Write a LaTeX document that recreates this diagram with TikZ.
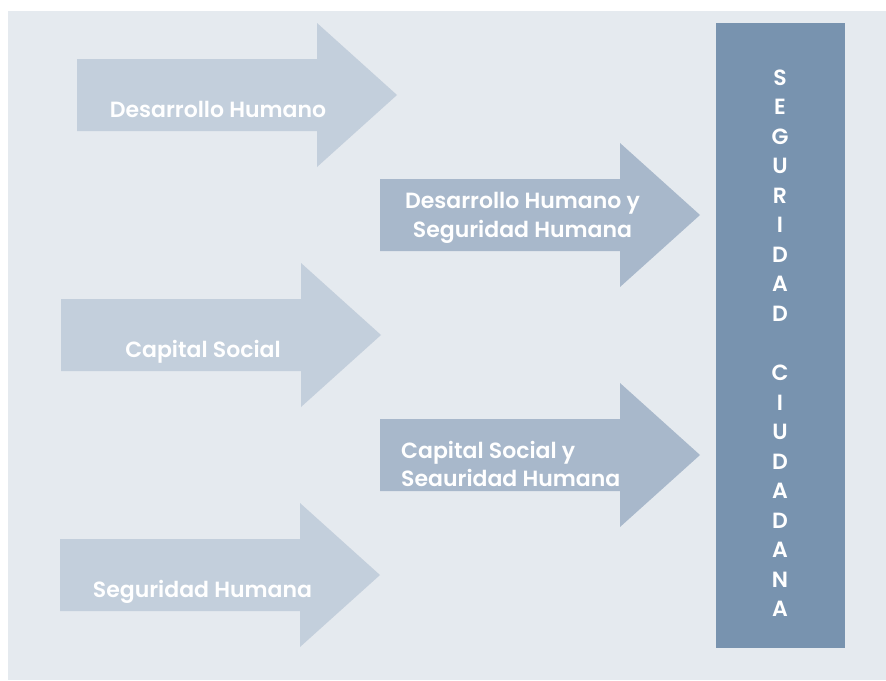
\documentclass[tikz,border=0pt]{standalone}
\usepackage{fontspec}
\setmainfont{Poppins}[BoldFont={Poppins SemiBold}]
\definecolor{bgc}{HTML}{E5EAEF}
\definecolor{arrowlight}{HTML}{C3CFDC}
\definecolor{arrowmid}{HTML}{A8B8CB}
\definecolor{bardark}{HTML}{7893AF}
\tikzset{
  bigarrow/.pic={\fill[pic actions] (0,-36) -- (240,-36) -- (240,-72) -- (320,0) -- (240,72) -- (240,36) -- (0,36) -- cycle;},
  lbl/.style={text=white, font=\fontsize{22}{26}\selectfont\bfseries, inner sep=0pt, anchor=base},
  vlbl/.style={text=white, font=\fontsize{22}{26}\selectfont\bfseries, inner sep=0pt, anchor=base}
}
\begin{document}
\begin{tikzpicture}[x=1pt,y=-1pt]
\useasboundingbox (0,0) rectangle (886,680);
\fill[white] (0,0) rectangle (886,680);
\fill[bgc] (8,11) rectangle (886,680);
% arrows
\pic[fill=arrowlight] (a1) at (77,95) {bigarrow};
\pic[fill=arrowmid] (a2) at (380,215) {bigarrow};
\pic[fill=arrowlight] (a3) at (61,335) {bigarrow};
\pic[fill=arrowmid] (a4) at (380,455) {bigarrow};
\pic[fill=arrowlight] (a5) at (60,575) {bigarrow};
% bar
\node[fill=bardark, minimum width=129pt, minimum height=625pt, inner sep=0pt, anchor=north west] (bar) at (716,23) {};
% labels
\node[lbl] (t1) at (218,117) {Desarrollo Humano};
\node[lbl] (t2a) at (522.5,208) {Desarrollo Humano y};
\node[lbl] (t2b) at (522.5,237) {Seguridad Humana};
\node[lbl] (t3) at (203,357) {Capital Social};
\node[lbl, anchor=base west] (t4a) at (401,458) {Capital Social y};
\node[lbl, anchor=base west] (t4b) at (401,486) {Seauridad Humana};
\node[lbl] (t5) at (202.5,597) {Seguridad Humana};
% vertical letters
\foreach \l [count=\i from 0] in {S,E,G,U,R,I,D,A,D,{},C,I,U,D,A,D,A,N,A}{
  \node[vlbl] (v\i) at (780,{85+29.55*\i}) {\l};
}
\end{tikzpicture}
\end{document}
